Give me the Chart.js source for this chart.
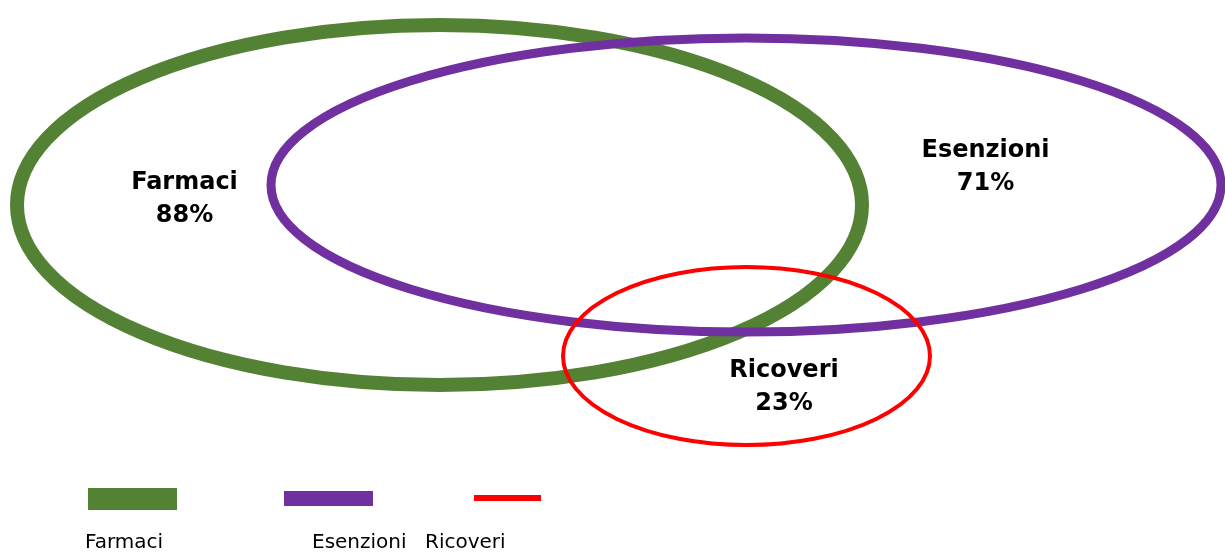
<!DOCTYPE html>
<html>
<head>
<meta charset="utf-8">
<script src="https://cdn.jsdelivr.net/npm/chart.js@4"></script>
<style>
  html, body { margin: 0; padding: 0; background: #fff; }
  #wrap { width: 1225px; height: 552px; }
</style>
</head>
<body>
<div id="wrap"><canvas id="myChart"></canvas></div>
<script>
const sets = ['Farmaci', 'Esenzioni', 'Ricoveri'];
const shares = [88, 71, 23];

// layout on a 0..1225 x 0..552 plane (y grows downwards)
const shapes = [
  { cx: 439.5, cy: 205, rx: 422.5, ry: 180, tx: 184.5, ty: 189 },
  { cx: 746, cy: 185, rx: 475, ry: 147, tx: 985.5, ty: 157 },
  { cx: 746.5, cy: 356, rx: 183.5, ry: 89, tx: 784, ty: 377 }
];
const colors = ['#548235', '#7030A0', '#FF0000'];
const widths = [14, 9, 4];

// legend swatches and label starts
const swatches = [
  { x: 88, y: 488, w: 89, h: 22 },
  { x: 284, y: 491, w: 89, h: 15 },
  { x: 474, y: 495, w: 67, h: 6 }
];
const legendTextX = [85, 312, 425];

const vennPlugin = {
  id: 'venn',
  afterDatasetsDraw(chart) {
    const ctx = chart.ctx;
    const xs = chart.scales.x, ys = chart.scales.y;
    ctx.save();
    chart.data.datasets.forEach((ds, i) => {
      const pt = chart.getDatasetMeta(i).data[0];
      const s = shapes[i];
      const rx = Math.abs(xs.getPixelForValue(s.cx + s.rx) - xs.getPixelForValue(s.cx));
      const ry = Math.abs(ys.getPixelForValue(s.cy + s.ry) - ys.getPixelForValue(s.cy));
      ctx.beginPath();
      ctx.ellipse(pt.x, pt.y, rx, ry, 0, 0, Math.PI * 2);
      ctx.strokeStyle = ds.borderColor;
      ctx.lineWidth = ds.borderWidth;
      ctx.stroke();
    });

    ctx.fillStyle = '#000';
    ctx.textAlign = 'center';
    ctx.textBaseline = 'alphabetic';
    ctx.font = 'bold 24px "DejaVu Sans"';
    sets.forEach((name, i) => {
      const tx = xs.getPixelForValue(shapes[i].tx);
      const ty = ys.getPixelForValue(shapes[i].ty);
      ctx.fillText(name, tx, ty);
      ctx.fillText(shares[i] + '%', tx, ty + 33);
    });

    // legend
    ctx.textAlign = 'left';
    ctx.font = '20px "DejaVu Sans"';
    sets.forEach((name, i) => {
      const sw = swatches[i];
      ctx.fillStyle = colors[i];
      ctx.fillRect(sw.x, sw.y, sw.w, sw.h);
      ctx.fillStyle = '#000';
      ctx.fillText(name, legendTextX[i], 548);
    });
    ctx.restore();
  }
};

const ctx = document.getElementById('myChart').getContext('2d');
new Chart(ctx, {
  type: 'scatter',
  data: {
    datasets: sets.map((name, i) => ({
      label: name,
      data: [{ x: shapes[i].cx, y: shapes[i].cy }],
      borderColor: colors[i],
      borderWidth: widths[i],
      pointRadius: 0,
      pointHoverRadius: 0
    }))
  },
  options: {
    responsive: true,
    maintainAspectRatio: false,
    animation: false,
    layout: { padding: 0 },
    plugins: {
      legend: { display: false },
      tooltip: { enabled: false }
    },
    scales: {
      x: { type: 'linear', min: 0, max: 1225, display: false },
      y: { type: 'linear', min: 0, max: 552, reverse: true, display: false }
    }
  },
  plugins: [vennPlugin]
});
</script>
</body>
</html>
